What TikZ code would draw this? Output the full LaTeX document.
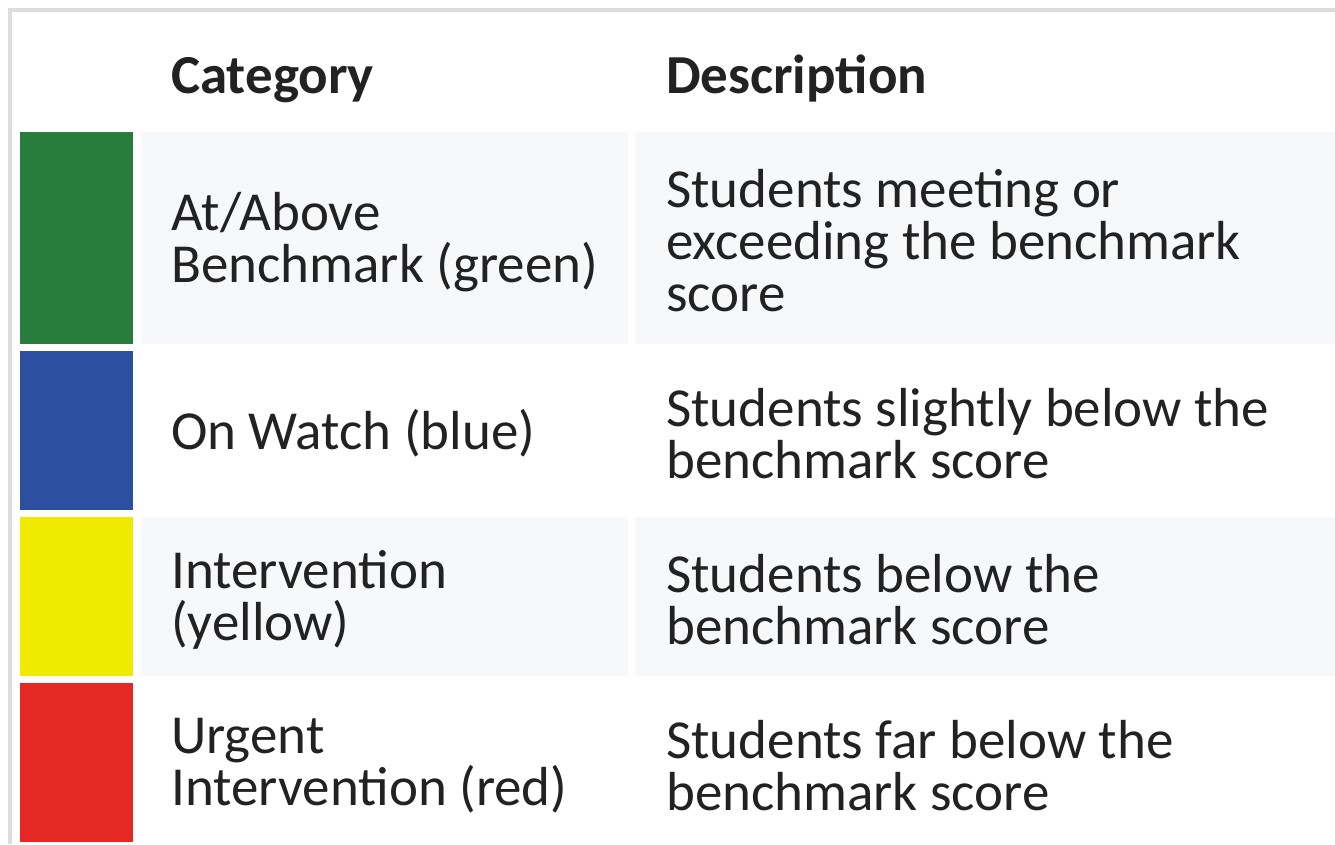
\documentclass[tikz,border=0pt]{standalone}
\usepackage{fontspec}
\setmainfont{Carlito}
\usepackage{tikz}
\usetikzlibrary{positioning}
\definecolor{mygreencolor}{HTML}{287D3C}
\definecolor{mybluecolor}{HTML}{2C4FA0}
\definecolor{myyellowcolor}{HTML}{EEEA00}
\definecolor{myredcolor}{HTML}{E62824}
\definecolor{myrowcolor}{HTML}{F7F8FA}
\definecolor{myframecolor}{HTML}{DDDDDD}
\definecolor{mytextcolor}{HTML}{222222}
\tikzset{
  swatch/.style={rectangle, inner sep=0pt, minimum width=113pt},
  catcell/.style={rectangle, inner sep=0pt, minimum width=487pt},
  desccell/.style={rectangle, inner sep=0pt, minimum width=700pt},
  celltext/.style={anchor=west, inner sep=0pt, align=left, text=mytextcolor, font=\fontsize{55pt}{52pt}\selectfont},
  headtext/.style={anchor=base west, inner sep=0pt, text=mytextcolor, font=\fontsize{55pt}{52pt}\selectfont\bfseries}
}

\begin{document}
\begin{tikzpicture}[x=1pt, y=-1pt]%
\useasboundingbox (0,0) rectangle (1335,844);%
\draw[line width=4pt, draw=myframecolor] (10,844) -- (10,10) -- (1335,10);%
\node[headtext] (headcat) at (171, 93) {Category};%
\node[headtext] (headdesc) at (666, 93) {Description};%
% row 1
\node[swatch, fill=mygreencolor, minimum height=212pt] (sw1) at (76.5, 238) {};%
\node[catcell, fill=myrowcolor, minimum height=212pt] (cat1) at (384.5, 238) {};%
\node[desccell, fill=myrowcolor, minimum height=212pt] (desc1) at (985, 238) {};%
\node[celltext] (cattext1) at (171, 242) {At/Above\\Benchmark (green)};%
\node[celltext] (desctext1) at (666, 241) {Students meeting or\\exceeding the benchmark\\score};%
% row 2
\node[swatch, fill=mybluecolor, minimum height=159pt] (sw2) at (76.5, 430.5) {};%
\node[catcell, fill=white, minimum height=159pt] (cat2) at (384.5, 430.5) {};%
\node[desccell, fill=white, minimum height=159pt] (desc2) at (985, 430.5) {};%
\node[celltext] (cattext2) at (171, 433) {On Watch (blue)};%
\node[celltext] (desctext2) at (666, 433.5) {Students slightly below the\\benchmark score};%
% row 3
\node[swatch, fill=myyellowcolor, minimum height=159pt] (sw3) at (76.5, 596.5) {};%
\node[catcell, fill=myrowcolor, minimum height=159pt] (cat3) at (384.5, 596.5) {};%
\node[desccell, fill=myrowcolor, minimum height=159pt] (desc3) at (985, 596.5) {};%
\node[celltext] (cattext3) at (171, 599.5) {Intervention\\(yellow)};%
\node[celltext] (desctext3) at (666, 599.5) {Students below the\\benchmark score};%
% row 4
\node[swatch, fill=myredcolor, minimum height=159pt] (sw4) at (76.5, 762.5) {};%
\node[catcell, fill=white, minimum height=159pt] (cat4) at (384.5, 762.5) {};%
\node[desccell, fill=white, minimum height=159pt] (desc4) at (985, 762.5) {};%
\node[celltext] (cattext4) at (171, 765.5) {Urgent\\Intervention (red)};%
\node[celltext] (desctext4) at (666, 765.5) {Students far below the\\benchmark score};%
\end{tikzpicture}
\end{document}
